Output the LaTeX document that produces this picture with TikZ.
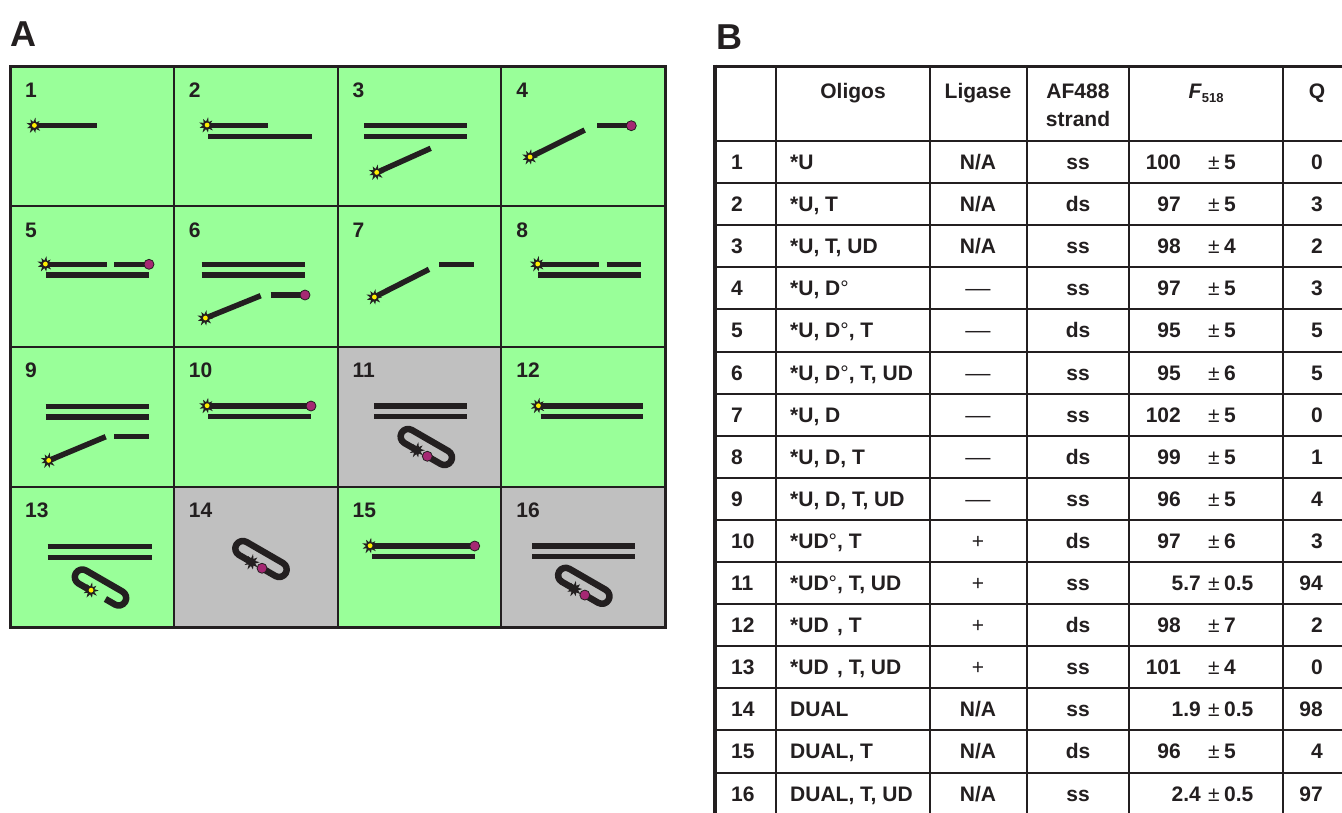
\documentclass[tikz,border=0pt]{standalone}
\usepackage{fontspec}
\setmainfont{Liberation Sans}

\definecolor{cellgreen}{RGB}{153,255,153}
\definecolor{cellgray}{RGB}{192,192,192}
\definecolor{ink}{RGB}{35,31,32}
\definecolor{quencher}{RGB}{165,40,115}
\definecolor{dye}{RGB}{255,238,0}

\tikzset{
  strand/.style={draw=ink, line width=5.5pt, line cap=butt},
  loopstrand/.style={draw=ink, line width=6.5pt, line cap=butt, line join=round},
  thinrule/.style={draw=ink, line width=2pt},
  txt/.style={font=\fontsize{21}{25}\selectfont\bfseries, text=ink, inner sep=0pt},
  plaintxt/.style={font=\fontsize{21}{25}\selectfont, text=ink, inner sep=0pt},
  bigtxt/.style={font=\fontsize{36}{40}\selectfont\bfseries, text=ink, inner sep=0pt},
  % fluorophore: spiky burst with a bright centre
  fluor/.pic={
    \fill[ink] (0:8)--(20:3.8)--(40:7.4)--(60:3.8)--(80:8.3)--(100:3.8)--(120:7.2)--(140:3.8)
      --(160:8)--(180:3.8)--(200:7.4)--(220:3.8)--(240:8.3)--(260:3.8)--(280:7.2)--(300:3.8)
      --(320:8)--(340:3.8)--cycle;
    \fill[dye] (0.4,0.3) circle (2.4);
  },
  % quenched fluorophore: burst only
  darkfluor/.pic={
    \fill[ink] (0:8)--(20:3.8)--(40:7.4)--(60:3.8)--(80:8.3)--(100:3.8)--(120:7.2)--(140:3.8)
      --(160:8)--(180:3.8)--(200:7.4)--(220:3.8)--(240:8.3)--(260:3.8)--(280:7.2)--(300:3.8)
      --(320:8)--(340:3.8)--cycle;
  },
  quench/.pic={
    \filldraw[fill=quencher, draw=ink, line width=0.8pt] (0,0) circle (5);
  }
}

% two parallel strands (duplex) from x #1 to x #2, upper strand at depth #3
\newcommand\duplex[3]{%
  \draw[strand] (#1,-#3) -- (#2,-#3);
  \draw[strand] (#1,-#3-10.6) -- (#2,-#3-10.6);}

% circular (ligated) probe centred at (#1,#2): ends meet on the lower edge
\newcommand\closedloop[2]{%
  \begin{scope}[shift={(#1,-#2)}, rotate=-30]
    \draw[loopstrand] (-6.5,-7.5) -- (-21,-7.5) arc[start angle=270, end angle=90, radius=7.5]
      -- (21,7.5) arc[start angle=90, end angle=-90, radius=7.5] -- (4,-7.5);
    \pic at (-6.5,-7.5) {darkfluor};
    \pic at (5.5,-7.5) {quench};
  \end{scope}}

% hairpin probe with an open nick on the lower edge
\newcommand\openloop[2]{%
  \begin{scope}[shift={(#1,-#2)}, rotate=-30]
    \draw[loopstrand] (-7,-7.5) -- (-21,-7.5) arc[start angle=270, end angle=90, radius=7.5]
      -- (21,7.5) arc[start angle=90, end angle=-90, radius=7.5] -- (10,-7.5);
    \pic at (-7,-7.5) {fluor};
  \end{scope}}

\newcommand\degsym{{\mdseries °}}
\newcommand\nodegsym{\phantom{\mdseries °}}
\newcommand\ligdash{{\mdseries\scalebox{1.2}[1]{—}}}
\newcommand\ligplus{{\mdseries +}}

% one table row: index, oligos, ligase, strand, F value, error, Q, right edge of F value
\newcommand\tabrow[8]{%
  \pgfmathsetmacro\bl{-(141+42.1*(#1-0.5)+7.5)}%
  \node[txt, anchor=base west] (no#1) at (731,\bl) {#1};
  \node[txt, anchor=base west] (ol#1) at (790,\bl) {#2};
  \node[txt, anchor=base] (lg#1) at (978,\bl) {#3};
  \node[txt, anchor=base] (st#1) at (1078,\bl) {#4};
  \node[txt, anchor=base east] (fa#1) at (#8,\bl) {#5};
  \node[plaintxt, anchor=base] (pm#1) at (1214,\bl) {±};
  \node[txt, anchor=base west] (fb#1) at (1224,\bl) {#6};
  \node[txt, anchor=base east] (q#1) at (1323,\bl) {#7};
}

\begin{document}
\begin{tikzpicture}[x=1pt, y=1pt]
\useasboundingbox (0,0) rectangle (1342,-812);
\fill[white] (0,0) rectangle (1342,-812);

% ---------------- panel A ----------------
\node[bigtxt, anchor=base west] (labA) at (10,-46) {A};

\foreach \n/\col in {1/cellgreen,2/cellgreen,3/cellgreen,4/cellgreen,
                     5/cellgreen,6/cellgreen,7/cellgreen,8/cellgreen,
                     9/cellgreen,10/cellgreen,11/cellgray,12/cellgreen,
                     13/cellgreen,14/cellgray,15/cellgreen,16/cellgray} {
  \pgfmathtruncatemacro\cc{mod(\n-1,4)}
  \pgfmathtruncatemacro\rr{(\n-1)/4}
  \fill[\col] ({10+163.75*\cc},{-(66+140.25*\rr)}) rectangle ++(163.75,-140.25);
  \node[txt, anchor=base west] (cell\n) at ({10+163.75*\cc+15},{-(66+140.25*\rr+31)}) {\n};
}
\foreach \i in {1,2,3} {
  \draw[thinrule] ({10+163.75*\i},-66) -- ({10+163.75*\i},-627);
  \draw[thinrule] (10,{-(66+140.25*\i)}) -- (665,{-(66+140.25*\i)});
}
\draw[ink, line width=3pt] (10,-66) rectangle (665,-627);

% cell 1
\draw[strand] (34,-125.7) -- (96.7,-125.7);
\pic at (34,-125.7) {fluor};
% cell 2
\draw[strand] (205,-125.3) -- (268.3,-125.3);
\draw[strand] (208.3,-136.3) -- (311.7,-136.3);
\pic at (206.7,-125.3) {fluor};
% cell 3
\duplex{364}{467}{125.7}
\draw[strand] (376.3,-172.7) -- (430.7,-148.3);
\pic at (376.3,-172.7) {fluor};
% cell 4
\draw[strand] (529.7,-157.3) -- (584.7,-130);
\draw[strand] (597.3,-125.7) -- (629,-125.7);
\pic at (631.3,-125.7) {quench};
\pic at (529.7,-157.3) {fluor};
% cell 5
\draw[strand] (45,-264.3) -- (106.7,-264.3);
\draw[strand] (114.3,-264.3) -- (148,-264.3);
\draw[strand] (46,-275) -- (149,-275);
\pic at (149,-264.3) {quench};
\pic at (45,-264.3) {fluor};
% cell 6
\duplex{201.7}{305}{264.3}
\draw[strand] (205,-318.3) -- (260.7,-295.7);
\draw[strand] (270.7,-295) -- (304,-295);
\pic at (305,-295) {quench};
\pic at (205,-318.3) {fluor};
% cell 7
\draw[strand] (374,-297.3) -- (429,-269.3);
\draw[strand] (439,-264.3) -- (473.7,-264.3);
\pic at (374,-297.3) {fluor};
% cell 8
\draw[strand] (537.3,-264.3) -- (598.7,-264.3);
\draw[strand] (606.7,-264.3) -- (641.3,-264.3);
\draw[strand] (538,-275) -- (641.3,-275);
\pic at (537.3,-264.3) {fluor};
% cell 9
\duplex{45.7}{149}{406.3}
\draw[strand] (48.3,-460.7) -- (105.7,-436.7);
\draw[strand] (114.3,-436.7) -- (149,-436.7);
\pic at (48.3,-460.7) {fluor};
% cell 10
\draw[strand] (206.7,-406) -- (310,-406);
\draw[strand] (208.3,-416.7) -- (311,-416.7);
\pic at (311,-406) {quench};
\pic at (206.7,-406) {fluor};
% cell 11
\duplex{374}{467.3}{406}
\closedloop{426.3}{447}
% cell 12
\draw[strand] (538,-406) -- (643,-406);
\draw[strand] (540.7,-416.7) -- (643,-416.7);
\pic at (538,-406) {fluor};
% cell 13
\duplex{47.7}{151.7}{546.7}
\openloop{100.5}{587.5}
% cell 14
\closedloop{261}{559}
% cell 15
\draw[strand] (369.7,-546) -- (474,-546);
\draw[strand] (372.3,-556.7) -- (474.7,-556.7);
\pic at (474.7,-546) {quench};
\pic at (369.7,-546) {fluor};
% cell 16
\duplex{532.3}{634.7}{546}
\closedloop{583.8}{585.8}

% ---------------- panel B ----------------
\node[bigtxt, anchor=base west] (labB) at (716,-49) {B};

% rules
\foreach \k in {0,...,16} {
  \draw[thinrule] (715,{-(141+42.1*\k)}) -- (1346,{-(141+42.1*\k)});
}
\foreach \xx in {776,930,1027,1129,1283} {
  \draw[thinrule] (\xx,-66) -- (\xx,-816);
}
\draw[ink, line width=3pt] (713,-66) -- (1346,-66);
\draw[ink, line width=4pt] (715,-64.5) -- (715,-816);

% header
\node[txt, anchor=base] (hOli) at (853,-98.5) {Oligos};
\node[txt, anchor=base] (hLig) at (978,-98.5) {Ligase};
\node[txt, anchor=base] (hAF) at (1078,-98.5) {AF488};
\node[txt, anchor=base] (hStr) at (1078,-126.5) {strand};
\node[txt, anchor=base] (hF) at (1206,-98.5) {\textit{F}\raisebox{-3.5pt}{\fontsize{13}{15}\selectfont 518}};
\node[txt, anchor=base] (hQ) at (1317,-98.5) {Q};

% body
\tabrow{1}{*U}{N/A}{ss}{100}{5}{0}{1181}
\tabrow{2}{*U, T}{N/A}{ds}{97}{5}{3}{1181}
\tabrow{3}{*U, T, UD}{N/A}{ss}{98}{4}{2}{1181}
\tabrow{4}{*U, D\degsym}{\ligdash}{ss}{97}{5}{3}{1181}
\tabrow{5}{*U, D\degsym, T}{\ligdash}{ds}{95}{5}{5}{1181}
\tabrow{6}{*U, D\degsym, T, UD}{\ligdash}{ss}{95}{6}{5}{1181}
\tabrow{7}{*U, D}{\ligdash}{ss}{102}{5}{0}{1181}
\tabrow{8}{*U, D, T}{\ligdash}{ds}{99}{5}{1}{1181}
\tabrow{9}{*U, D, T, UD}{\ligdash}{ss}{96}{5}{4}{1181}
\tabrow{10}{*UD\degsym, T}{\ligplus}{ds}{97}{6}{3}{1181}
\tabrow{11}{*UD\degsym, T, UD}{\ligplus}{ss}{5.7}{0.5}{94}{1201}
\tabrow{12}{*UD\nodegsym, T}{\ligplus}{ds}{98}{7}{2}{1181}
\tabrow{13}{*UD\nodegsym, T, UD}{\ligplus}{ss}{101}{4}{0}{1181}
\tabrow{14}{DUAL}{N/A}{ss}{1.9}{0.5}{98}{1201}
\tabrow{15}{DUAL, T}{N/A}{ds}{96}{5}{4}{1181}
\tabrow{16}{DUAL, T, UD}{N/A}{ss}{2.4}{0.5}{97}{1201}
\end{tikzpicture}
\end{document}
